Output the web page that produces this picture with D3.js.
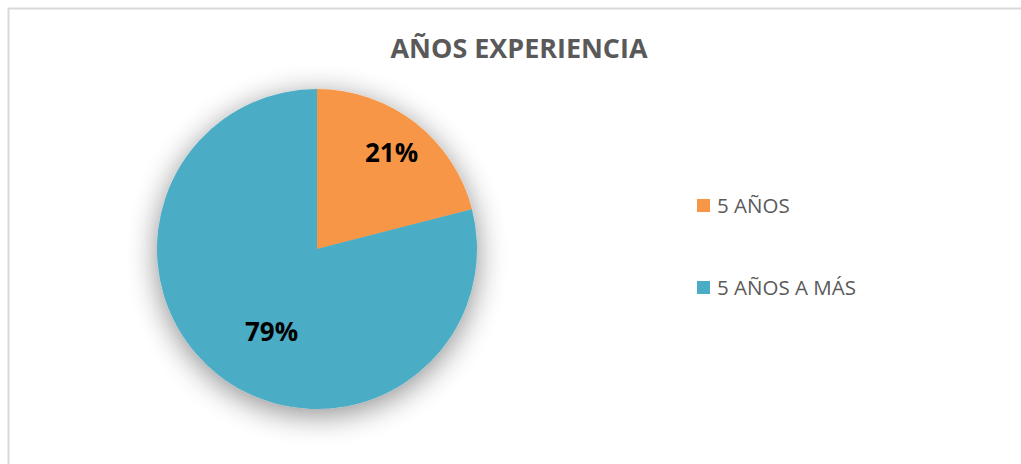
<!DOCTYPE html>
<html lang="es">
<head>
<meta charset="UTF-8">
<title>Años experiencia</title>
<script src="https://d3js.org/d3.v7.min.js"></script>
<style>
  body { margin: 0; background: #fff; }
  text { font-family: "Open Sans", sans-serif; }
</style>
</head>
<body>
<div id="chart"></div>
<script>
    // data
    const categories = ["5 AÑOS", "5 AÑOS A MÁS"]
    const values = [21, 79]
    const colors = ["#F79646", "#4BACC6"]
    const chartTitle = "AÑOS EXPERIENCIA"

    const width = 1021
    const height = 464
    const cx = 317, cy = 249, radius = 160

    const svg = d3.select("div#chart").append("svg")
        .attr("width", width)
        .attr("height", height)

    // chart frame (runs off the right and bottom edge)
    svg.append("rect")
        .attr("x", 8.5)
        .attr("y", 8.5)
        .attr("width", width + 10)
        .attr("height", height + 10)
        .attr("fill", "#fff")
        .attr("stroke", "#d9d9d9")
        .attr("stroke-width", 2)

    // soft shadow under the pie
    const defs = svg.append("defs")
    const filter = defs.append("filter")
        .attr("id", "pie-shadow")
        .attr("x", "-40%").attr("y", "-40%")
        .attr("width", "180%").attr("height", "180%")
    filter.append("feGaussianBlur").attr("in", "SourceAlpha").attr("stdDeviation", 15)
    filter.append("feOffset").attr("dx", 0).attr("dy", 6).attr("result", "blur")
    filter.append("feComponentTransfer").append("feFuncA").attr("type", "linear").attr("slope", 0.45)
    const merge = filter.append("feMerge")
    merge.append("feMergeNode")
    merge.append("feMergeNode").attr("in", "SourceGraphic")

    svg.append("text")
        .attr("x", 519)
        .attr("y", 58)
        .attr("text-anchor", "middle")
        .style("font-size", "26px")
        .style("font-weight", "bold")
        .attr("fill", "#595959")
        .attr("textLength", 257)
        .attr("lengthAdjust", "spacingAndGlyphs")
        .text(chartTitle)

    const pie = d3.pie().sort(null).value(d => d)
    const arcs = pie(values)
    const arc = d3.arc().innerRadius(0).outerRadius(radius)

    const g = svg.append("g")
        .attr("transform", "translate(" + cx + "," + cy + ")")

    g.append("g")
        .attr("filter", "url(#pie-shadow)")
        .selectAll("path")
        .data(arcs)
        .join("path")
        .attr("d", arc)
        .attr("fill", (d, i) => colors[i])

    // Excel "best fit" label placement: radius fraction and angle nudge per slice
    const labelRadius = [0.76, 0.59]
    const labelNudge = [0, -9]
    const pct = d3.format(".0%")
    const total = d3.sum(values)

    g.selectAll("text.lbl")
        .data(arcs)
        .join("text")
        .attr("class", "lbl")
        .attr("transform", (d, i) => {
            const a = (d.startAngle + d.endAngle) / 2 + labelNudge[i] * Math.PI / 180
            const r = labelRadius[i] * radius
            return "translate(" + (Math.sin(a) * r) + "," + (-Math.cos(a) * r) + ")"
        })
        .attr("text-anchor", "middle")
        .attr("dy", "0.36em")
        .style("font-size", "26px")
        .style("font-weight", "bold")
        .attr("fill", "#000")
        .text(d => pct(d.data / total))

    // legend
    const legendY = d3.scalePoint().domain(categories).range([206, 288])
    const legend = svg.append("g").selectAll("g")
        .data(categories)
        .join("g")
        .attr("transform", d => "translate(697," + legendY(d) + ")")
    legend.append("rect")
        .attr("x", 0)
        .attr("y", -7)
        .attr("width", 13)
        .attr("height", 13)
        .attr("fill", (d, i) => colors[i])
    legend.append("text")
        .attr("x", 20)
        .attr("y", 0)
        .attr("dy", "0.36em")
        .style("font-size", "20.5px")
        .attr("fill", "#595959")
        .text(d => d)
</script>
</body>
</html>
